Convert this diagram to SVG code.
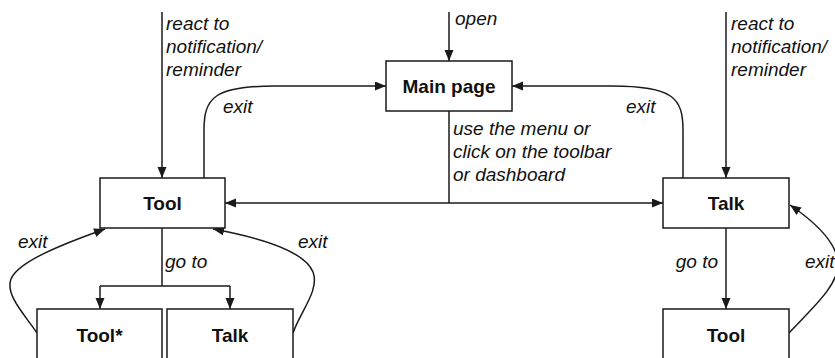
<svg xmlns="http://www.w3.org/2000/svg" width="835" height="358" viewBox="0 0 835 358">
<style>
.box{fill:#fff;stroke:#1a1a1a;stroke-width:1.5}
.lbl{font-family:"Liberation Sans",Arial,sans-serif;font-size:19px;font-weight:bold;fill:#111;text-anchor:middle}
.it{font-family:"Liberation Sans",Arial,sans-serif;font-size:19px;font-style:italic;fill:#111}
.c{fill:none;stroke:#1a1a1a;stroke-width:1.5}
</style>
<defs>
<marker id="ah" markerUnits="userSpaceOnUse" markerWidth="12" markerHeight="10" refX="11" refY="4.5" orient="auto-start-reverse" viewBox="0 0 12 10">
<path d="M0,0 L11,4.5 L0,9 z" fill="#1a1a1a"/>
</marker>
</defs>
<rect width="835" height="358" fill="#fff"/>
<g id="connectors">
<path class="c" d="M162,12 L162,178" marker-end="url(#ah)"/>
<path class="c" d="M449,12 L449,61" marker-end="url(#ah)"/>
<path class="c" d="M726,12 L726,178" marker-end="url(#ah)"/>
<path class="c" d="M204,178 L204,130 C204,98 214,86 275,86 L386,86" marker-end="url(#ah)"/>
<path class="c" d="M683,178 L683,130 C683,98 673,86 612,86 L512,86" marker-end="url(#ah)"/>
<path class="c" d="M449,111 L449,203"/>
<path class="c" d="M225,203 L663,203" marker-start="url(#ah)" marker-end="url(#ah)"/>
<path class="c" d="M162,228 L162,286"/>
<path class="c" d="M100,286 L230,286"/>
<path class="c" d="M100,286 L100,309" marker-end="url(#ah)"/>
<path class="c" d="M230,286 L230,309" marker-end="url(#ah)"/>
<path class="c" d="M37,333 C25,315 5,295 11,279 C18,262 60,245 105,229" marker-end="url(#ah)"/>
<path class="c" d="M293,333 C300,312 320,290 313,272 C305,252 262,238 213,229" marker-end="url(#ah)"/>
<path class="c" d="M726,228 L726,309" marker-end="url(#ah)"/>
<path class="c" d="M789,333 C810,310 840,285 838,262 C836,242 815,222 790,205" marker-end="url(#ah)"/>
</g>
<g id="main-page"><rect class="box" x="386" y="61" width="126" height="50"/><text class="lbl" x="449" y="93">Main page</text></g>
<g id="tool"><rect class="box" x="100" y="178" width="125" height="50"/><text class="lbl" x="162.5" y="210">Tool</text></g>
<g id="talk"><rect class="box" x="663" y="178" width="126" height="50"/><text class="lbl" x="726" y="210">Talk</text></g>
<g id="tool-star"><rect class="box" x="37" y="309" width="125" height="60"/><text class="lbl" x="99.5" y="342">Tool*</text></g>
<g id="talk-2"><rect class="box" x="167" y="309" width="126" height="60"/><text class="lbl" x="230" y="342">Talk</text></g>
<g id="tool-2"><rect class="box" x="663" y="309" width="126" height="60"/><text class="lbl" x="726" y="342">Tool</text></g>
<g id="labels">
<text class="it" x="166" y="30">react to</text>
<text class="it" x="166" y="53">notification/</text>
<text class="it" x="166" y="76">reminder</text>
<text class="it" x="455" y="25">open</text>
<text class="it" x="731" y="30">react to</text>
<text class="it" x="731" y="53">notification/</text>
<text class="it" x="731" y="76">reminder</text>
<text class="it" x="223" y="113">exit</text>
<text class="it" x="626" y="113">exit</text>
<text class="it" x="453" y="135">use the menu or</text>
<text class="it" x="453" y="158">click on the toolbar</text>
<text class="it" x="453" y="181">or dashboard</text>
<text class="it" x="18" y="248">exit</text>
<text class="it" x="298" y="248">exit</text>
<text class="it" x="165" y="268">go to</text>
<text class="it" x="718" y="268" text-anchor="end">go to</text>
<text class="it" x="805" y="268">exit</text>
</g>
</svg>
